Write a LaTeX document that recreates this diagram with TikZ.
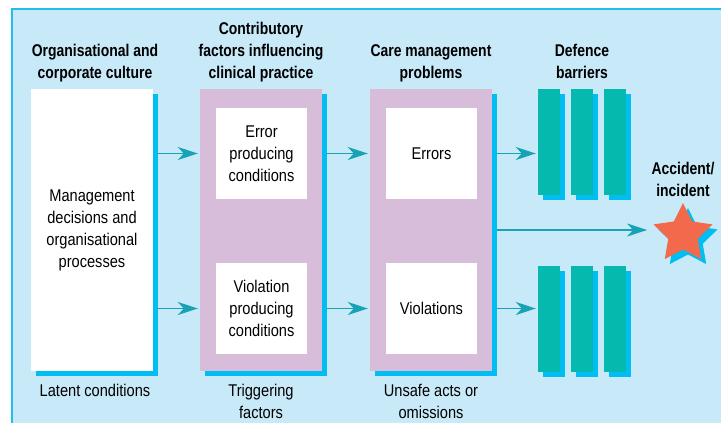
\documentclass[tikz,border=0pt]{standalone}
\usepackage{fontspec}
\setmainfont{Liberation Sans}[FakeStretch=0.86,BoldFeatures={FakeStretch=0.82}]
\usetikzlibrary{shapes.geometric,shadows,arrows.meta,positioning}
\definecolor{panelblue}{HTML}{C8E9F8}
\definecolor{rimblue}{HTML}{22BDEF}
\definecolor{shadeblue}{HTML}{00BDF2}
\definecolor{lilac}{HTML}{D8BDDB}
\definecolor{barteal}{HTML}{05B9AE}
\definecolor{flowteal}{HTML}{17A3B5}
\definecolor{starred}{HTML}{F26A4B}
\begin{document}
\begin{tikzpicture}[x=1pt,y=-1pt,
    font=\fontsize{17}{22}\selectfont,
    bshadow/.style={copy shadow={shadow xshift=5pt,shadow yshift=-5pt,draw=none,fill=shadeblue}},
    column/.style={rectangle,bshadow,minimum width=122pt,minimum height=282pt,inner sep=0pt,align=center},
    inbox/.style={rectangle,fill=white,minimum width=91pt,minimum height=91pt,inner sep=0pt,align=center},
    barrier/.style={rectangle,fill=barteal,bshadow,minimum width=22pt,minimum height=106pt,inner sep=0pt},
    head/.style={font=\fontsize{17}{22}\selectfont\bfseries,align=center,anchor=south,inner sep=0pt},
    foot/.style={align=center,anchor=north,inner sep=0pt},
    flow/.style={draw=flowteal,line width=1.8pt,shorten <=5pt,shorten >=2pt,
        -{Stealth[length=20pt,width=13pt,inset=6pt]}}]
    \useasboundingbox (0,0) rectangle (721,423);
    \fill[panelblue] (12,9) rectangle (721,423);
    \draw[rimblue,line width=1.5pt] (12,423) -- (12,9) -- (721,9);

    \node[column,fill=white] (mgmt) at (92,230) {Management\\decisions and\\organisational\\processes};
    \node[column,fill=lilac] (contrib) at (261,230) {};
    \node[column,fill=lilac] (care) at (431,230) {};
    \node[inbox] (epc) at (261.5,153.5) {Error\\producing\\conditions};
    \node[inbox] (vpc) at (261.5,308.5) {Violation\\producing\\conditions};
    \node[inbox] (err) at (431.5,153.5) {Errors};
    \node[inbox] (vio) at (431.5,308.5) {Violations};
    \foreach \x/\n in {549/1,582/2,615/3}{
        \node[barrier] (top\n) at (\x,142) {};
        \node[barrier] (low\n) at (\x,319) {};
    }
    \node[star,star points=5,star point ratio=2,minimum size=62pt,inner sep=0pt,
        fill=starred,bshadow] (acc) at (683,234) {};

    \node[head] (hculture) at (95,85.6) {Organisational and\\corporate culture\strut};
    \node[head] (hfactors) at (261,85.6) {Contributory\\factors influencing\\clinical practice\strut};
    \node[head] (hcare) at (431,85.6) {Care management\\problems\strut};
    \node[head] (hdefence) at (582,85.6) {Defence\\barriers\strut};
    \node[head] (haccident) at (683,203) {Accident/\\incident\strut};

    \node[foot] (flatent) at (95,383.5) {Latent conditions};
    \node[foot] (ftrigger) at (261,383.5) {Triggering\\factors};
    \node[foot] (funsafe) at (431,383.5) {Unsafe acts or\\omissions};

    \draw[flow] (mgmt.east |- epc) -- (contrib.west |- epc);
    \draw[flow] (mgmt.east |- vpc) -- (contrib.west |- vpc);
    \draw[flow] (contrib.east |- epc) -- (care.west |- err);
    \draw[flow] (contrib.east |- vpc) -- (care.west |- vio);
    \draw[flow] (care.east |- err) -- (top1.west |- err);
    \draw[flow] (care.east |- vio) -- (low1.west |- vio);
    \draw[flow,shorten >=6pt] (care.east) -- (care.east -| acc.outer point 2);
\end{tikzpicture}
\end{document}
